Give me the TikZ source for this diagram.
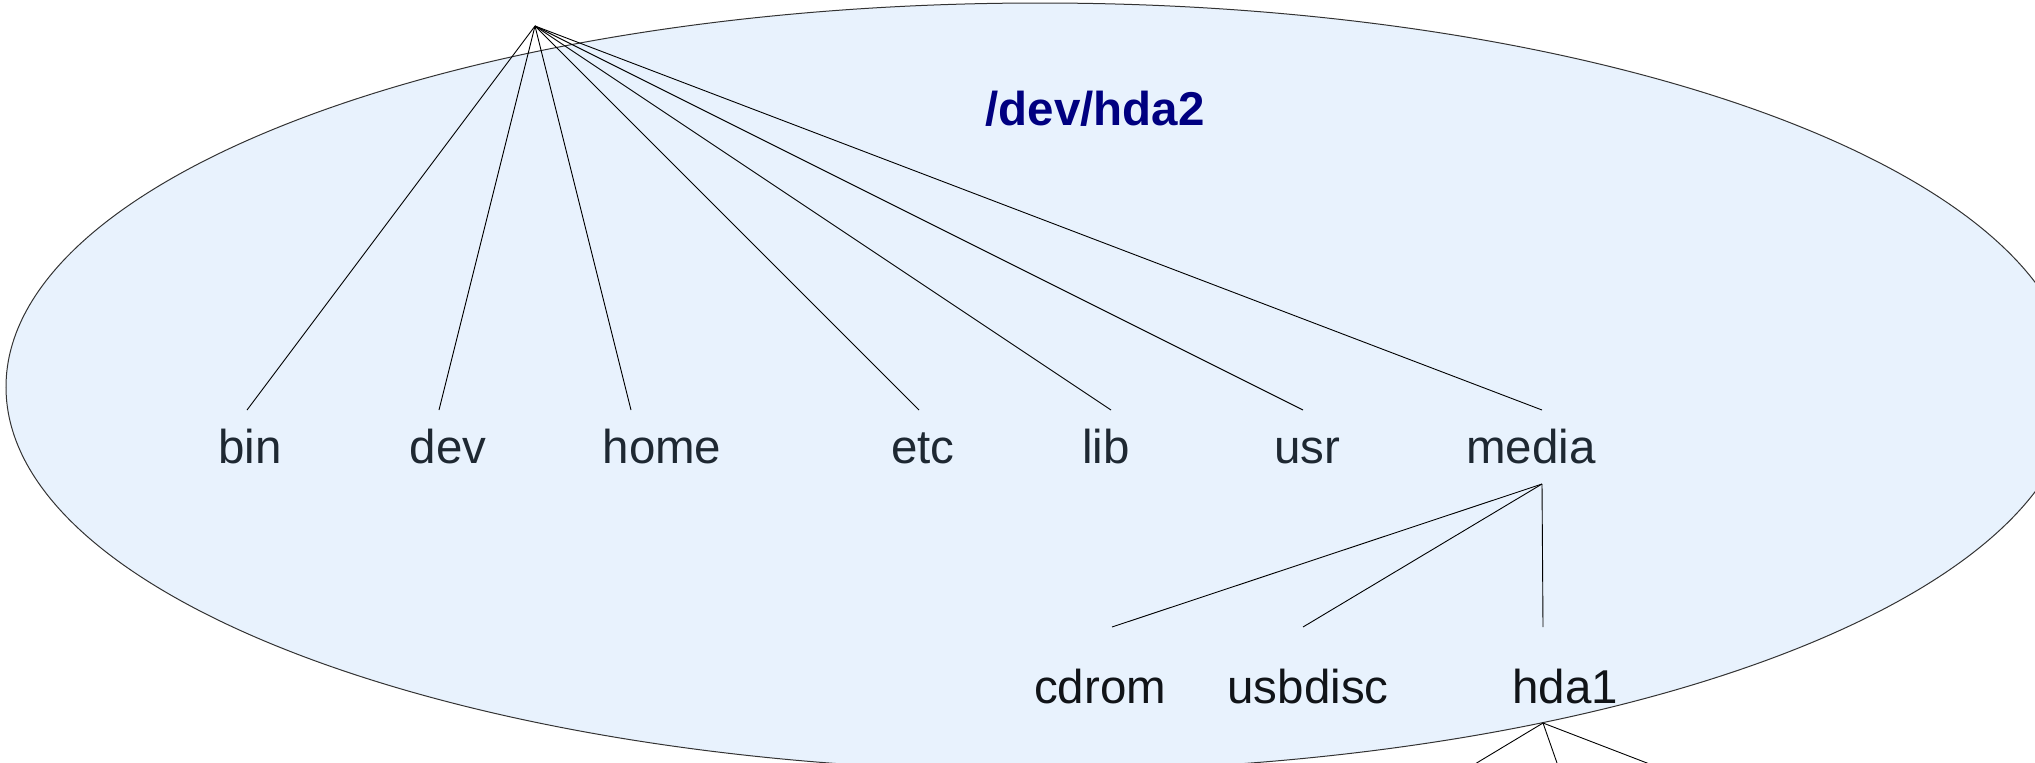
\documentclass[tikz,border=0pt]{standalone}
\usepackage{fontspec}
\setmainfont{Liberation Sans}
\definecolor{fillblue}{HTML}{E8F2FD}
\definecolor{titleblue}{HTML}{000080}
\definecolor{labelgray}{HTML}{1E2832}
\definecolor{labeldark}{HTML}{111418}
\begin{document}
\begin{tikzpicture}[x=1pt,y=-1pt,
  lbl/.style={anchor=base, inner sep=0pt, font=\fontsize{47.5}{57}\selectfont, text=labelgray},
  lbltwo/.style={lbl, text=labeldark},
  conn/.style={line width=0.9pt, draw=black},
  part/.style={fill=fillblue, draw=black!80, line width=1pt}]
\useasboundingbox (0,0) rectangle (2035,763);
\clip (0,0) rectangle (2035,763);
\draw[part] (1040,387) ellipse [x radius=1034pt, y radius=384pt];

\node[anchor=base, inner sep=0pt, font=\bfseries\fontsize{47.5}{57}\selectfont, text=titleblue] (title) at (1095,125) {/dev/hda2};

% connector points
\coordinate (root) at (535,26);
\coordinate (bin-t) at (247,410);
\coordinate (dev-t) at (439,410);
\coordinate (home-t) at (631,410);
\coordinate (etc-t) at (919,410);
\coordinate (lib-t) at (1111,410);
\coordinate (usr-t) at (1303,410);
\coordinate (media-t) at (1542,410);
\coordinate (media-b) at (1542,484);
\coordinate (cdrom-t) at (1112,627);
\coordinate (usbdisc-t) at (1303,627);
\coordinate (hda1-t) at (1543,627);
\coordinate (hda1-b) at (1543,723);
\coordinate (c1) at (1460,773);
\coordinate (c2) at (1560.5,773);
\coordinate (c3) at (1673,773);

% labels
\node[lbl] (bin) at (250,463) {bin};
\node[lbl] (dev) at (448,463) {dev};
\node[lbl] (home) at (662,463) {home};
\node[lbl] (etc) at (923,463) {etc};
\node[lbl] (lib) at (1106,463) {lib};
\node[lbl] (usr) at (1307,463) {usr};
\node[lbl] (media) at (1531,463) {media};
\node[lbltwo] (cdrom) at (1100,703) {cdrom};
\node[lbltwo] (usbdisc) at (1308,703) {usbdisc};
\node[lbltwo] (hda1) at (1565,703) {hda1};

% connectors
\foreach \t in {bin-t,dev-t,home-t,etc-t,lib-t,usr-t,media-t}
  \draw[conn] (root) -- (\t);
\foreach \t in {cdrom-t,usbdisc-t,hda1-t}
  \draw[conn] (media-b) -- (\t);
\foreach \t in {c1,c2,c3}
  \draw[conn] (hda1-b) -- (\t);
\end{tikzpicture}
\end{document}
